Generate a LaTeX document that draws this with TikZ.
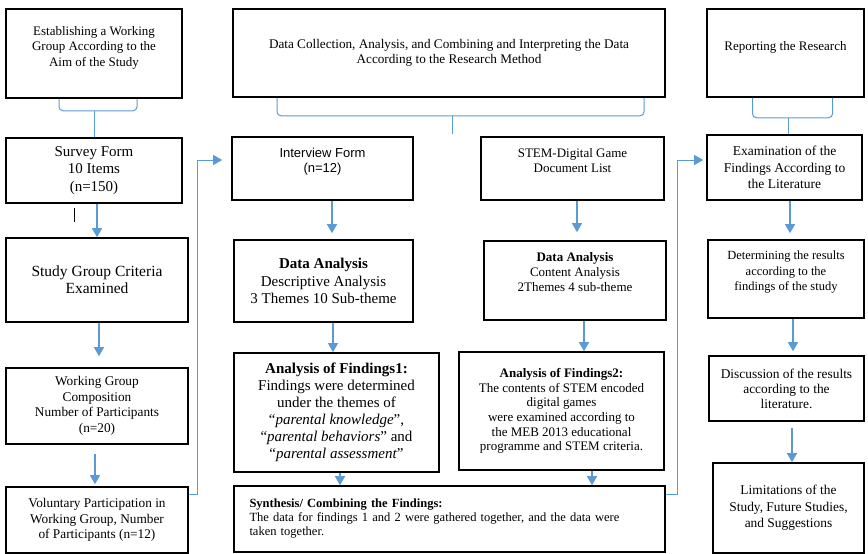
\documentclass[tikz,border=0pt]{standalone}
\usepackage{fontspec}
\setmainfont{Liberation Serif}
\newfontfamily\arialfont{Liberation Sans}
\usepackage{tikz}
\usetikzlibrary{arrows.meta,calc,positioning}
\definecolor{flowblue}{RGB}{91,155,213}
\newcommand{\fsz}[2]{\fontsize{#1}{#2}\selectfont}
\tikzset{
  box/.style={draw, line width=1.6pt, align=center, inner sep=2pt},
  arr/.style={flowblue, line width=1.2pt, -{Triangle[width=10pt,length=9pt]}},
  conn/.style={flowblue, line width=1pt, -{Triangle[width=10pt,length=9pt]}},
  brace/.style={draw=flowblue, line width=1pt, rounded corners=4pt},
}

\begin{document}
\begin{tikzpicture}[x=1pt,y=-1pt]
\useasboundingbox (0,0) rectangle (868,554);
\node[box, minimum width=176pt, minimum height=89pt, text depth=15pt, font=\fsz{13}{15.5}] (est) at (94,53.5) {Establishing a Working\\Group According to the\\Aim of the Study};
\node[box, minimum width=176pt, minimum height=65pt, font=\fsz{15}{17.5}] (survey) at (94,170.5) {Survey Form\\10 Items\\(n=150)};
\node[box, minimum width=182pt, minimum height=84pt, font=\fsz{15.5}{17}] (crit) at (97,280) {Study Group Criteria\\Examined};
\node[box, minimum width=182pt, minimum height=76pt, font=\fsz{13.3}{15.5}] (comp) at (97,406) {Working Group\\Composition\\Number of Participants\\(n=20)};
\node[box, minimum width=182pt, minimum height=66pt, font=\fsz{13.3}{15.5}] (vol) at (97,520) {Voluntary Participation in\\Working Group, Number\\of Participants (n=12)};

\node[box, minimum width=432pt, minimum height=88pt, font=\fsz{13.2}{14.5}] (datacol) at (449,53) {Data Collection, Analysis, and Combining and Interpreting the Data\\According to the Research Method};
\node[box, minimum width=181pt, minimum height=63pt, text depth=16pt, font=\arialfont\fsz{13}{15}] (interv) at (322.5,168.5) {Interview Form\\(n=12)};
\node[box, minimum width=183pt, minimum height=63pt, text depth=16pt, font=\fsz{13}{15}] (stemlist) at (572.5,168.5) {STEM-Digital Game\\Document List};
\node[box, minimum width=179pt, minimum height=82pt, font=\fsz{15}{17.5}] (da1) at (323.5,281) {\textbf{Data Analysis}\\Descriptive Analysis\\3 Themes 10 Sub-theme};
\node[box, minimum width=182pt, minimum height=79pt, text depth=18pt, font=\fsz{13}{15}] (da2) at (575,280.5) {\textbf{Data Analysis}\\Content Analysis\\2Themes 4 sub-theme};
\node[box, minimum width=205pt, minimum height=119pt, font=\fsz{15}{17}] (af1) at (336.5,412.5) {\textbf{Analysis of Findings1:}\\Findings were determined\\under the themes of\\``\textit{parental knowledge}'',\\``\textit{parental behaviors}'' and\\``\textit{parental assessment}''};
\node[box, minimum width=205pt, minimum height=118pt, font=\fsz{13}{14.7}] (af2) at (561.5,411) {\textbf{Analysis of Findings2:}\\The contents of STEM encoded\\digital games\\were examined according to\\the MEB 2013 educational\\programme and STEM criteria.};
\node[box, minimum width=431pt, minimum height=66pt, text width=400pt, align=left, font=\fsz{12.5}{14}] (syn) at (449.5,519) {\textbf{Synthesis/ Combining the Findings:}\\The data for findings 1 and 2 were gathered together, and the data were\\taken together.};

\node[box, minimum width=157pt, minimum height=88pt, text depth=15pt, font=\fsz{13}{15}] (report) at (785.5,53) {Reporting the Research};
\node[box, minimum width=155pt, minimum height=65pt, font=\fsz{13.5}{16.5}] (exam) at (784.5,167.5) {Examination of the\\Findings According to\\the Literature};
\node[box, minimum width=156pt, minimum height=78pt, text depth=16pt, font=\fsz{12.5}{15.5}] (determ) at (786,279) {Determining the results\\according to the\\findings of the study};
\node[box, minimum width=155pt, minimum height=65pt, font=\fsz{13.4}{15}] (disc) at (786.5,388.5) {Discussion of the results\\according to the\\literature.};
\node[box, minimum width=151pt, minimum height=90pt, font=\fsz{13.4}{16.5}] (limit) at (788.5,508) {Limitations of the\\Study, Future Studies,\\and Suggestions};

\draw[brace] ([xshift=-35pt]est.south) -- ++(0,12) -- ++(78,0) -- ++(0,-12);
\draw[brace] (est.south) ++(0,12) -- (survey.north);
\draw[brace] ([xshift=-172pt]datacol.south) -- ++(0,18) -- ++(367,0) -- ++(0,-18);
\draw[brace] ([xshift=3pt]datacol.south) ++(0,18) -- ++(0,18);
\draw[brace] ([xshift=-33pt]report.south) -- ++(0,20) -- ++(80,0) -- ++(0,-20);
\draw[brace] ([xshift=3pt]report.south) ++(0,20) -- ([xshift=3pt]report.south |- exam.north);

\draw[black, line width=0.8pt] (74,208) -- (74,222);

\path[arr] ([xshift=3pt]survey.south) edge ([xshift=3pt]survey.south |- crit.north)
  ([xshift=2pt]crit.south) edge[shorten >=11pt] ([xshift=2pt]crit.south |- comp.north)
  ([xshift=-2pt]comp.south) edge[shorten <=9pt, shorten >=2pt] ([xshift=-2pt]comp.south |- vol.north)
  ([xshift=9.5pt]interv.south) edge[shorten >=6pt] ([xshift=9.5pt]interv.south |- da1.north)
  ([xshift=4.5pt]stemlist.south) edge[shorten >=8pt] ([xshift=4.5pt]stemlist.south |- da2.north)
  ([xshift=9.5pt]da1.south) edge ([xshift=9.5pt]da1.south |- af1.north)
  ([xshift=9pt]da2.south) edge ([xshift=9pt]da2.south |- af2.north)
  ([xshift=3.5pt]af1.south) edge ([xshift=3.5pt]af1.south |- syn.north)
  ([xshift=30.5pt]af2.south) edge ([xshift=30.5pt]af2.south |- syn.north)
  ([xshift=5.5pt]exam.south) edge[shorten >=6pt] ([xshift=5.5pt]exam.south |- determ.north)
  ([xshift=7pt]determ.south) edge[shorten >=4pt] ([xshift=7pt]determ.south |- disc.north)
  ([xshift=5.5pt]disc.south) edge[shorten <=6pt] ([xshift=5.5pt]disc.south |- limit.north);

\coordinate (lbend) at (197,160);
\coordinate (rbend) at (677,160);
\draw[conn, shorten >=9pt] ([yshift=26pt]vol.east) -| (lbend) -- ([yshift=8.5pt]interv.west);
\draw[conn, shorten >=3pt] ([yshift=25pt]syn.east) -| (rbend) -- ([yshift=7.5pt]exam.west);
\end{tikzpicture}
\end{document}
